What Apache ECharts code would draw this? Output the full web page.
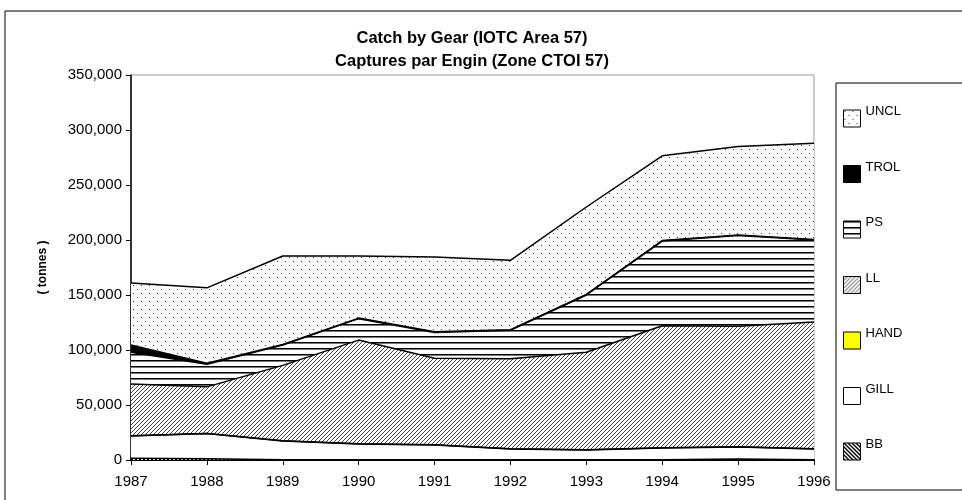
<!DOCTYPE html>
<html>
<head>
<meta charset="utf-8">
<script src="https://cdn.jsdelivr.net/npm/echarts@6/dist/echarts.min.js"></script>
<style>
html, body { margin: 0; padding: 0; background: #fff; }
#chart { width: 962px; height: 500px; }
</style>
</head>
<body>
<div id="chart"></div>
<script>
var years = ['1987', '1988', '1989', '1990', '1991', '1992', '1993', '1994', '1995', '1996'];
// tonnes per gear, stacked bottom -> top
var bb   = [1500, 1200, 200, 200, 200, 200, 200, 300, 800, 300];
var gill = [20300, 22800, 17100, 14300, 13400, 9800, 9000, 10700, 11000, 9700];
var hand = [200, 200, 200, 200, 200, 200, 200, 200, 200, 200];
var ll   = [47000, 42300, 68500, 94300, 78700, 81800, 88600, 110800, 109500, 115300];
var ps   = [29000, 20500, 18500, 19500, 23500, 26000, 52000, 77000, 82500, 74500];
var trol = [6500, 1000, 500, 500, 500, 500, 500, 500, 500, 500];
var uncl = [56500, 68500, 80500, 56500, 68000, 63000, 79500, 77000, 80500, 87500];
var legendOrder = ['UNCL', 'TROL', 'PS', 'LL', 'HAND', 'GILL', 'BB'];

// little canvas tiles for the excel-like fill patterns
function tile(w, h, draw) {
    var c = document.createElement('canvas');
    c.width = w; c.height = h;
    var ctx = c.getContext('2d');
    ctx.fillStyle = '#fff';
    ctx.fillRect(0, 0, w, h);
    draw(ctx);
    return { image: c, repeat: 'repeat' };
}
var dots = tile(8, 8, function (ctx) {
    ctx.fillStyle = '#333';
    ctx.fillRect(1, 1, 1, 1);
    ctx.fillRect(5, 5, 1, 1);
});
var hlines = tile(4, 6, function (ctx) {
    ctx.fillStyle = '#000';
    ctx.fillRect(0, 0, 4, 1);
    ctx.fillStyle = '#777';
    ctx.fillRect(0, 1, 4, 1);
});
var fwd = tile(4, 4, function (ctx) {
    ctx.fillStyle = '#444';
    for (var i = 0; i < 4; i++) ctx.fillRect(i, 3 - i, 1, 1);
});
var back = tile(4, 4, function (ctx) {
    ctx.fillStyle = '#000';
    for (var i = 0; i < 4; i++) {
        ctx.fillRect(i, i, 1, 1);
        ctx.fillRect((i + 1) % 4, i, 1, 1);
    }
});

function layer(name, data, fill) {
    return {
        name: name,
        type: 'line',
        stack: 'gear',
        data: data,
        symbol: 'none',
        lineStyle: { color: '#000', width: 1.5 },
        itemStyle: { color: fill, borderColor: '#000', borderWidth: 1 },
        areaStyle: { color: fill, opacity: 1 },
        emphasis: { disabled: true }
    };
}

var chart = echarts.init(document.getElementById('chart'));
var option = {
    animation: false,
    backgroundColor: '#fff',
    textStyle: { fontFamily: 'Liberation Sans, Arial, sans-serif' },
    title: {
        text: 'Catch by Gear (IOTC Area 57)\nCaptures par Engin (Zone CTOI 57)',
        left: 467,
        top: 22,
        textAlign: 'center',
        textStyle: { fontSize: 16.5, fontWeight: 'bold', color: '#000', lineHeight: 23 }
    },
    graphic: [
        { type: 'rect', shape: { x: 5, y: 11, width: 1000, height: 1000 },
          style: { fill: 'none', stroke: '#000', lineWidth: 1 }, z: -1 },
        { type: 'rect', shape: { x: 836, y: 83, width: 200, height: 407 },
          style: { fill: 'none', stroke: '#000', lineWidth: 1 } }
    ],
    legend: {
        data: legendOrder,
        orient: 'vertical',
        left: 838,
        top: 100,
        icon: 'rect',
        itemWidth: 17,
        itemHeight: 17,
        itemGap: 33,
        itemStyle: { borderColor: '#000', borderWidth: 1 },
        // label sits above the swatch's middle, as in the original
        formatter: function (name) { return '{t|' + name + '}'; },
        textStyle: {
            fontSize: 13, color: '#000',
            rich: { t: { fontSize: 13, padding: [0, 0, 14, 0] } }
        }
    },
    grid: { left: 131, right: 148, top: 75, bottom: 40, show: true, borderColor: '#999', borderWidth: 1 },
    xAxis: {
        type: 'category',
        data: years,
        boundaryGap: false,
        axisLine: { lineStyle: { color: '#000', width: 2 } },
        axisTick: { show: true, length: 5, lineStyle: { color: '#000' } },
        axisLabel: { color: '#000', fontSize: 15, margin: 14 }
    },
    yAxis: {
        type: 'value',
        min: 0,
        max: 350000,
        interval: 50000,
        name: '( tonnes )',
        nameLocation: 'middle',
        nameGap: 82,
        nameRotate: 90,
        nameTextStyle: { fontWeight: 'bold', fontSize: 12, color: '#000' },
        axisLine: { show: true, lineStyle: { color: '#000', width: 1.5 } },
        axisTick: { show: true, length: 5, lineStyle: { color: '#000' } },
        splitLine: { show: false },
        axisLabel: {
            color: '#000', fontSize: 15, margin: 9,
            formatter: function (v) { return v.toLocaleString('en-US'); }
        }
    },
    series: [
        layer('BB', bb, back),
        layer('GILL', gill, '#fff'),
        layer('HAND', hand, '#ffff00'),
        layer('LL', ll, fwd),
        layer('PS', ps, hlines),
        layer('TROL', trol, '#000'),
        layer('UNCL', uncl, dots)
    ]
};
chart.setOption(option);
</script>
</body>
</html>
